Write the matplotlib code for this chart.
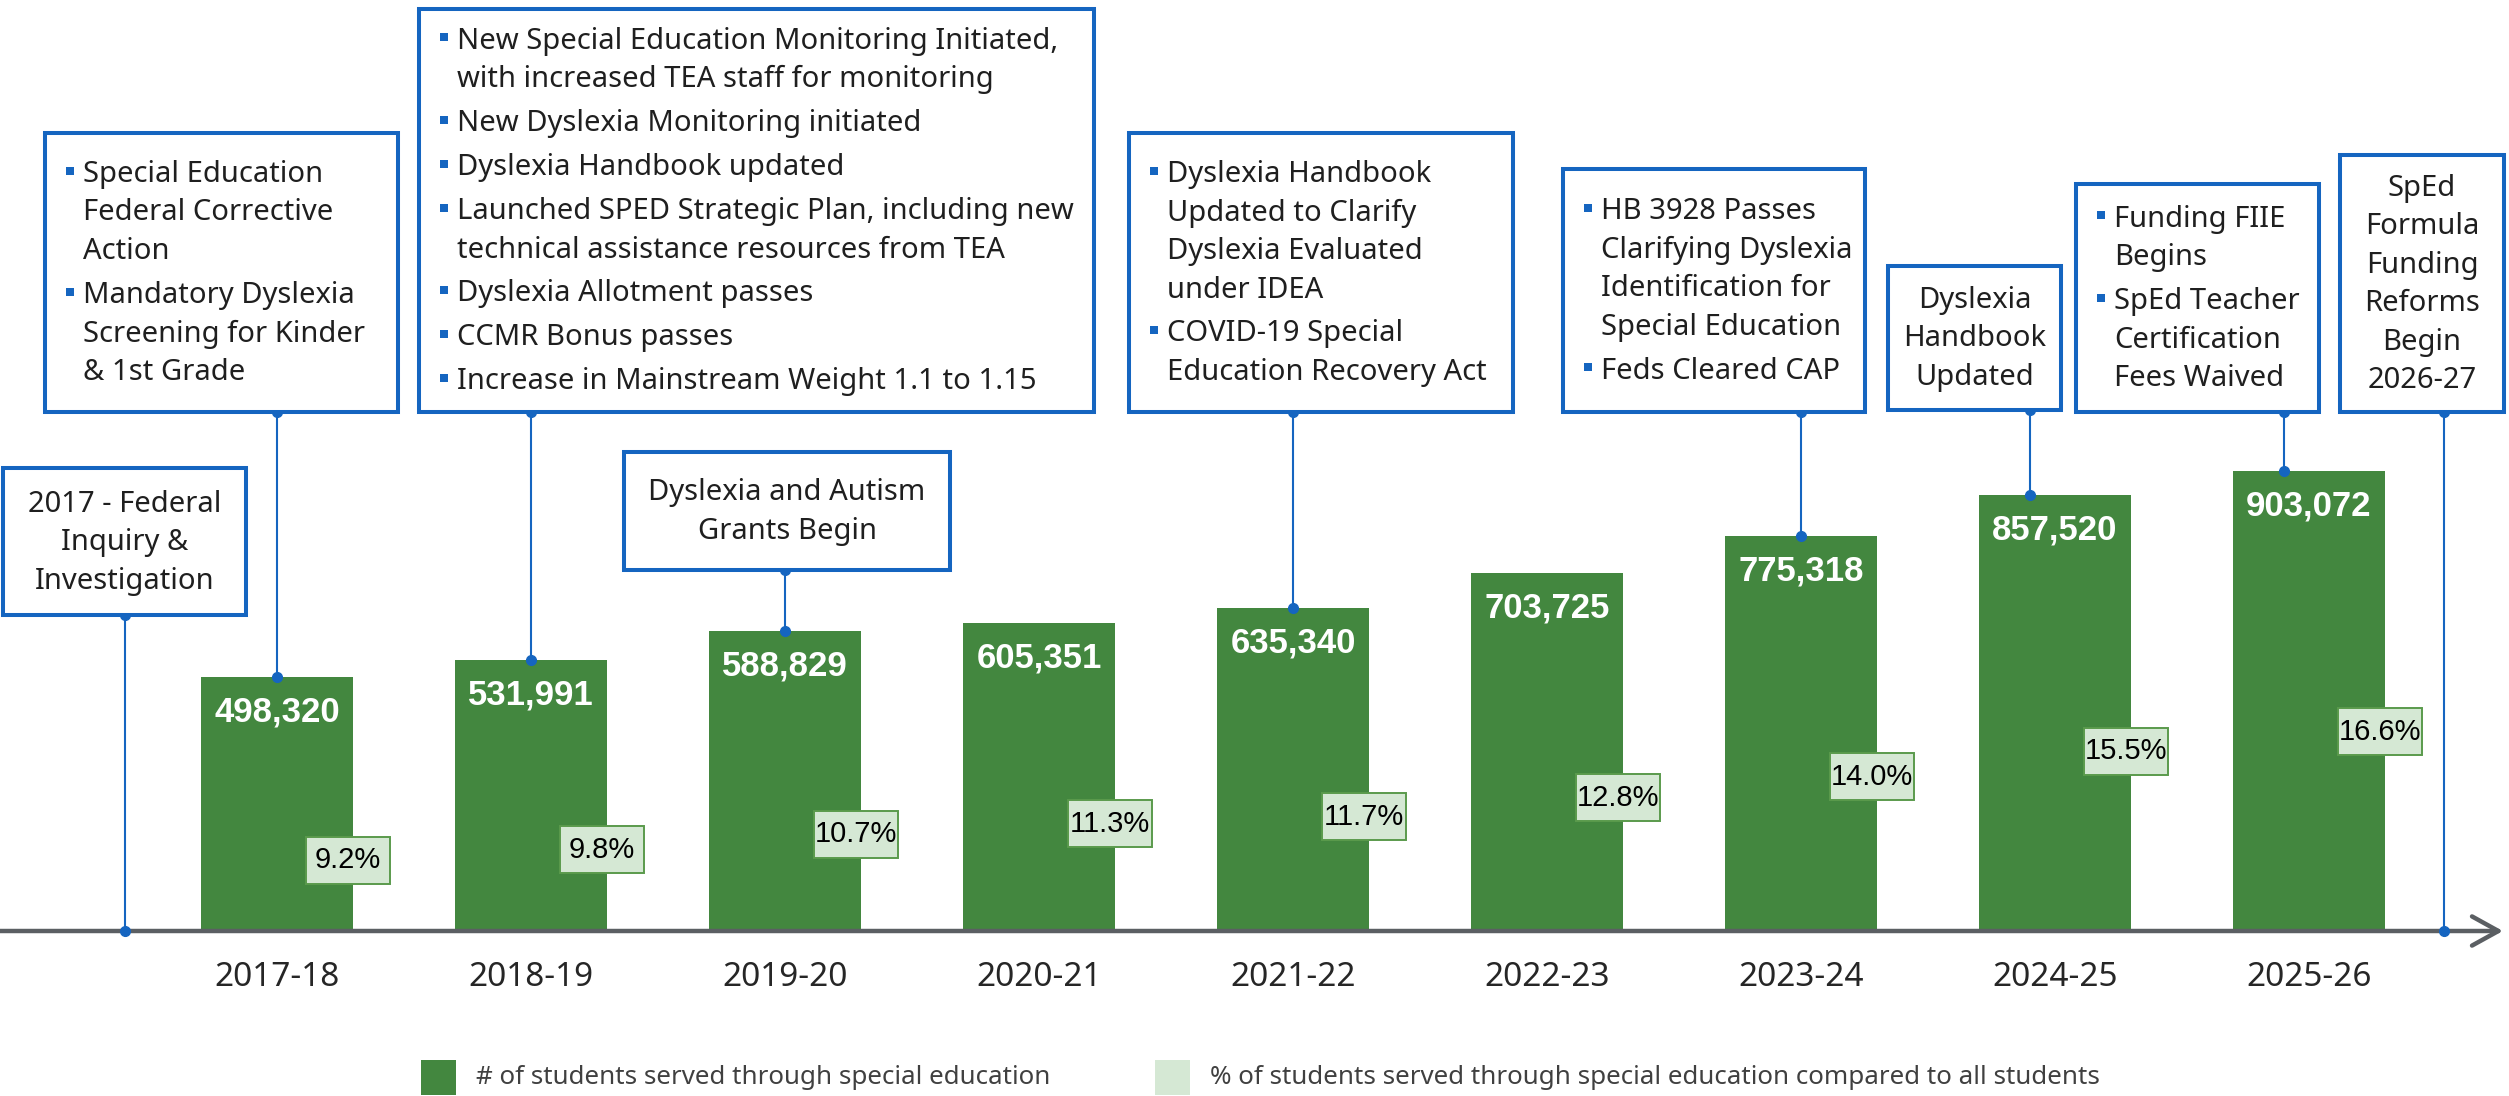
import matplotlib
matplotlib.use("Agg")
import matplotlib.pyplot as plt
from matplotlib.patches import Rectangle, FancyArrowPatch, ArrowStyle
from matplotlib.transforms import blended_transform_factory
import numpy as np

##### DATA #####
years = ["2017-18", "2018-19", "2019-20", "2020-21", "2021-22",
         "2022-23", "2023-24", "2024-25", "2025-26"]
students = [498320, 531991, 588829, 605351, 635340, 703725, 775318, 857520, 903072]
pct = [9.2, 9.8, 10.7, 11.3, 11.7, 12.8, 14.0, 15.5, 16.6]

# timeline events: where the connector sits (in year slots) and which bar it lands on
event_x = [-0.6, 0, 1, 2, 4, 6, 6.9, 7.9, 8.53]
event_bar = [None, 0, 1, 2, 4, 6, 7, 8, None]
event_bullets = [False, True, True, False, True, True, False, True, False]
event_text = [
    ["2017 - Federal", "Inquiry &", "Investigation"],
    [["Special Education", "Federal Corrective", "Action"],
     ["Mandatory Dyslexia", "Screening for Kinder", "& 1st Grade"]],
    [["New Special Education Monitoring Initiated,", "with increased TEA staff for monitoring"],
     ["New Dyslexia Monitoring initiated"],
     ["Dyslexia Handbook updated"],
     ["Launched SPED Strategic Plan, including new", "technical assistance resources from TEA"],
     ["Dyslexia Allotment passes"],
     ["CCMR Bonus passes"],
     ["Increase in Mainstream Weight 1.1 to 1.15"]],
    ["Dyslexia and Autism", "Grants Begin"],
    [["Dyslexia Handbook", "Updated to Clarify", "Dyslexia Evaluated", "under IDEA"],
     ["COVID-19 Special", "Education Recovery Act"]],
    [["HB 3928 Passes", "Clarifying Dyslexia", "Identification for", "Special Education"],
     ["Feds Cleared CAP"]],
    ["Dyslexia", "Handbook", "Updated"],
    [["Funding FIIE", "Begins"],
     ["SpEd Teacher", "Certification", "Fees Waived"]],
    ["SpEd", "Formula", "Funding", "Reforms", "Begin", "2026-27"],
]
legend_labels = ["# of students served through special education",
                 "% of students served through special education compared to all students"]

##### LAYOUT (pixels) #####
W, H = 2509, 1096
X0, STEP = 277, 254          # first bar centre, distance between bars
BASE = 931                   # baseline
PX_PER = 0.509e-3            # px per student
P_REF, P_Y, P_PX = 9.2, 860, 17.3   # percent axis mapping
# callout boxes: left, top, right, bottom
boxes = [(3, 468, 246, 615), (45, 133, 398, 412), (419, 9, 1094, 412),
         (624, 452, 950, 570), (1129, 133, 1513, 412), (1563, 169, 1865, 412),
         (1888, 266, 2061, 410), (2076, 184, 2319, 412), (2340, 155, 2504, 412)]

GREEN = "#43873f"
LIGHT = "#d5e8d4"
BLUE = "#1565c0"
GRAY = "#5b5f63"
TXT = "#1f1f1f"
LINE, PARA = 38.5, 44
BOXFONT = "Noto Sans"

fig = plt.figure(figsize=(W / 100, H / 100), dpi=100)
ax = fig.add_axes([0, 0, 1, 1])
ax.set_xlim(-X0 / STEP, (W - X0) / STEP)
ax.set_ylim(-(H - BASE) / PX_PER, BASE / PX_PER)
ax.axis("off")

x = np.arange(len(years))
ax.bar(x, students, width=0.6, color=GREEN, zorder=2)
for xi, v in zip(x, students):
    ax.annotate(f"{v:,}", (xi, v), xytext=(0, -25.2), textcoords="offset points",
                ha="center", va="center", color="white", fontsize=25,
                fontweight="bold", family="Liberation Sans", zorder=3)

trans = blended_transform_factory(ax.transData, ax.transAxes)
for xi, yr in zip(x, years):
    ax.text(xi, 1 - 978 / H, yr, transform=trans, ha="center", va="center",
            fontsize=24, color="#262626", family=BOXFONT)

## percent labels on their own scale
ax2 = ax.twinx()
ax2.set_ylim(P_REF - (H - P_Y) / P_PX, P_REF + P_Y / P_PX)
ax2.axis("off")
bw, bh = 84 / STEP, 47 / P_PX
for xi, p in zip(x, pct):
    ax2.add_patch(Rectangle((xi + 0.28 - bw / 2, p - bh / 2), bw, bh, facecolor=LIGHT,
                            edgecolor="#5a9a4c", lw=1.4, zorder=4))
    ax2.text(xi + 0.28, p, f"{p:.1f}%", ha="center", va="center", fontsize=21,
             family="Liberation Sans", color="black", zorder=5)

## overlay in pixel coordinates for the timeline
lay = fig.add_axes([0, 0, 1, 1], zorder=5)
lay.set_xlim(0, W)
lay.set_ylim(H, 0)
lay.axis("off")
lay.patch.set_alpha(0)


def to_px(a, px, py):
    d = a.transData.transform((px, py))
    return d[0], H - d[1]


base_y = to_px(ax, 0, 0)[1]
arrow = FancyArrowPatch((0, base_y), (2503, base_y),
                        arrowstyle=ArrowStyle("->", head_length=1.9, head_width=1.05),
                        mutation_scale=10, lw=3.2, color=GRAY, shrinkA=0, shrinkB=0,
                        capstyle="round", joinstyle="round", zorder=1)
lay.add_patch(arrow)

for ex, eb, bul, lines, (l, t, r, b) in zip(event_x, event_bar, event_bullets, event_text, boxes):
    ty = 0 if eb is None else students[eb]
    cx, cy = to_px(ax, ex, ty)
    lay.plot([cx, cx], [b, cy], color=BLUE, lw=1.5, zorder=2)
    lay.plot([cx, cx], [b, cy], "o", color=BLUE, ms=7, zorder=3)
    lay.add_patch(Rectangle((l, t), r - l, b - t, facecolor="white", edgecolor=BLUE,
                            lw=2.9, zorder=4))
    mid = (t + b) / 2 + 1
    if not bul:
        n = len(lines)
        for i, s in enumerate(lines):
            lay.text((l + r) / 2, mid + (i - (n - 1) / 2) * LINE, s, ha="center", va="center",
                     fontsize=21, color=TXT, family=BOXFONT, zorder=5)
    else:
        total = sum((len(it) - 1) * LINE for it in lines) + (len(lines) - 1) * PARA
        y = mid - total / 2
        for it in lines:
            lay.add_patch(Rectangle((l + 21, y - 8), 8, 8, facecolor=BLUE, lw=0, zorder=5))
            for s in it:
                lay.text(l + 38, y, s, ha="left", va="center", fontsize=21, color=TXT,
                         family=BOXFONT, zorder=5)
                y += LINE
            y += PARA - LINE

## legend
for lx, col, lab in zip([421, 1155], [GREEN, LIGHT], legend_labels):
    lay.add_patch(Rectangle((lx, 1060), 35, 35, facecolor=col, lw=0))
    lay.text(lx + 55, 1078, lab, ha="left", va="center", fontsize=18.7,
             color="#404040", family=BOXFONT)

fig.savefig("out.png", dpi=100)
